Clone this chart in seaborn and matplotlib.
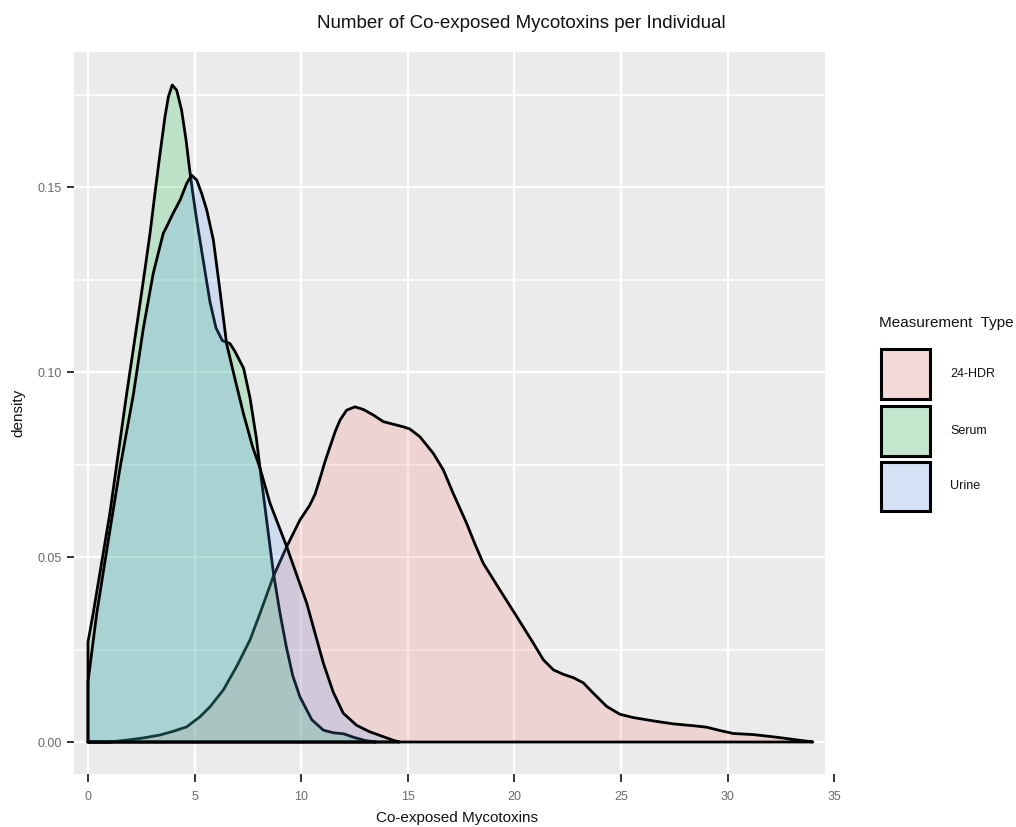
import numpy as np
import pandas as pd
import matplotlib
matplotlib.use("Agg")
import matplotlib.pyplot as plt
import matplotlib.colors as mcolors
from matplotlib.patches import Rectangle
import seaborn as sns

# ---------------- data ----------------
groups = ["24-HDR", "Serum", "Urine"]

hdr_x = [0, 1.0, 1.81, 2.6, 3.38, 4.0, 4.63, 5.25, 5.72, 6.35, 6.97, 7.6, 8.07, 8.69, 9.32,
         9.94, 10.4, 10.65, 10.88, 11.1, 11.35, 11.6, 11.82, 12.13, 12.52, 12.91, 13.38,
         13.85, 14.32, 14.79, 15.1, 15.57, 16.2, 16.67, 17.13, 17.76, 18.15, 18.54, 19.32,
         20.11, 20.89, 21.36, 21.83, 22.29, 22.76, 23.23, 23.7, 24.33, 24.95, 25.58, 26.52,
         27.45, 28.39, 29.02, 29.64, 30.27, 31.21, 32.14, 33.08, 34.0]
hdr_d = [0.0, 0.0, 0.0005, 0.0011, 0.0019, 0.0029, 0.0041, 0.0068, 0.0095, 0.0141, 0.0204,
         0.0276, 0.0348, 0.0447, 0.0528, 0.0600, 0.0640, 0.0670, 0.0712, 0.0755, 0.0798,
         0.0840, 0.0870, 0.0897, 0.0906, 0.0899, 0.0884, 0.0866, 0.0859, 0.0852, 0.0846,
         0.0825, 0.0780, 0.0735, 0.0672, 0.0591, 0.0535, 0.0483, 0.0411, 0.0339, 0.0267,
         0.0222, 0.0195, 0.0183, 0.0174, 0.0160, 0.0132, 0.0096, 0.0075, 0.0066, 0.0057,
         0.0049, 0.0044, 0.0040, 0.0031, 0.0023, 0.0020, 0.0014, 0.0007, 0.0]

serum_x = [0, 0.25, 1.03, 1.81, 2.28, 2.6, 2.91, 3.14, 3.38, 3.61, 3.77, 3.95, 4.16, 4.39,
           4.6, 4.75, 4.9, 5.1, 5.41, 5.72, 6.0, 6.3, 6.66, 6.9, 7.3, 7.6, 7.9, 8.1, 8.4,
           8.7, 9.0, 9.3, 9.6, 9.94, 10.5, 11.04, 11.5, 12.0, 12.5, 13.0, 13.5]
serum_d = [0.027, 0.035, 0.062, 0.094, 0.1122, 0.1249, 0.1375, 0.1483, 0.1591, 0.169,
           0.1744, 0.1776, 0.1762, 0.1708, 0.1627, 0.1555, 0.149, 0.141, 0.130, 0.119,
           0.112, 0.1085, 0.1077, 0.1055, 0.101, 0.093, 0.082, 0.0725, 0.059, 0.0456,
           0.035, 0.0258, 0.018, 0.0122, 0.006, 0.0032, 0.0025, 0.0022, 0.0012, 0.0004, 0.0]

urine_x = [0, 0.41, 1.03, 1.5, 2.13, 2.6, 3.06, 3.53, 3.69, 4.0, 4.32, 4.63, 4.86, 5.1, 5.33,
           5.57, 5.88, 6.19, 6.5, 6.9, 7.29, 7.72, 8.07, 8.54, 9.32, 10.26, 11.04, 11.5,
           11.97, 12.6, 13.2, 14.3, 14.6]
urine_d = [0.0163, 0.0348, 0.0573, 0.074, 0.094, 0.112, 0.1267, 0.1375, 0.1393, 0.143,
           0.1465, 0.151, 0.1532, 0.1519, 0.1483, 0.1438, 0.1357, 0.122, 0.1077, 0.098,
           0.0888, 0.0798, 0.074, 0.0645, 0.0528, 0.0375, 0.0213, 0.0135, 0.0078, 0.0045,
           0.0028, 0.0005, 0.0]

series = {"24-HDR": (hdr_x, hdr_d), "Serum": (serum_x, serum_d), "Urine": (urine_x, urine_d)}
palette = {"24-HDR": "#F8766D", "Serum": "#00BA38", "Urine": "#619CFF"}

x_ticks = [0, 5, 10, 15, 20, 25, 30, 35]
y_ticks = [0.00, 0.05, 0.10, 0.15]
y_minor = [0.025, 0.075, 0.125, 0.175]

title = "Number of Co-exposed Mycotoxins per Individual"
x_label = "Co-exposed Mycotoxins"
y_label = "density"
legend_title = "Measurement  Type"

# ---------------- style ----------------
sns.set_style("white")
plt.rcParams["font.family"] = ["Liberation Sans", "DejaVu Sans"]

W, H = 1016, 827
fig = plt.figure(figsize=(W / 100, H / 100), dpi=100)

x0_px, sx = 88.0, 21.32          # px of x=0, px per unit
pl, pr, pt, pb = 74.3, 825.0, 51.7, 774.0
ax = fig.add_axes([pl / W, 1 - pb / H, (pr - pl) / W, (pb - pt) / H])
ax.set_facecolor("#EBEBEB")
ax.set_xlim((pl - x0_px) / sx, (pr - x0_px) / sx)
ax.set_ylim(-0.00865, 0.1866)
for s in ax.spines.values():
    s.set_visible(False)

for v in x_ticks:
    ax.axvline(v, color="white", lw=1.6, zorder=0.5)
for v in y_ticks:
    ax.axhline(v, color="white", lw=1.6, zorder=0.5)
for v in y_minor:
    ax.axhline(v, color="white", lw=1.1, zorder=0.5)

alpha = 0.2
z = 1
for g in groups:
    xs, ds = series[g]
    ax.fill_between(xs, ds, 0, color=palette[g], alpha=alpha, lw=0, zorder=z)
    ox = [xs[0]] + list(xs) + [xs[-1], xs[0]]
    oy = [0.0] + list(ds) + [0.0, 0.0]
    df = pd.DataFrame({"x": ox, "y": oy})
    sns.lineplot(data=df, x="x", y="y", sort=False, estimator=None, color="black",
                 lw=2.0, ax=ax, zorder=z + 0.5)
    line = ax.lines[-1]
    line.set_solid_joinstyle("round")
    line.set_solid_capstyle("round")
    z += 1

ax.set_xticks([])
ax.set_xlabel("")
ax.set_ylabel("")
ax.set_yticks(y_ticks)
ax.set_yticklabels([f"{v:.2f}" for v in y_ticks])
ax.tick_params(axis="y", length=5, width=1.4, color="#333333", pad=4,
               labelsize=9, labelcolor="#6B6B6B", left=True)

# separate tick axis for x (extends past the panel as in the reference)
right_px = 845.0
ax2 = fig.add_axes([pl / W, 1 - pb / H, (right_px - pl) / W, 0.0001])
ax2.set_xlim((pl - x0_px) / sx, (right_px - x0_px) / sx)
ax2.set_facecolor("none")
for s in ax2.spines.values():
    s.set_visible(False)
ax2.set_yticks([])
ax2.set_xticks(x_ticks)
ax2.set_xticklabels([str(v) for v in x_ticks])
ax2.tick_params(axis="x", length=6, width=1.4, color="#333333", pad=6,
                labelsize=9, labelcolor="#6B6B6B", bottom=True)

fig.text(521.5 / W, 1 - 23 / H, title, ha="center", va="center", fontsize=13.5, color="#111111")
fig.text(457 / W, 1 - 818 / H, x_label, ha="center", va="center", fontsize=11, color="#111111")
fig.text(18 / W, 1 - 413 / H, y_label, ha="center", va="center", rotation=90, fontsize=11,
         color="#111111")

# legend (keys drawn as in ggplot: tinted key box with thick black border)
def blend(c, a, bg="#F2F2F2"):
    c = np.array(mcolors.to_rgb(c))
    b = np.array(mcolors.to_rgb(bg))
    return tuple(a * c + (1 - a) * b)

fig.text(879 / W, 1 - 323 / H, legend_title, ha="left", va="center", fontsize=11,
         color="#111111")
key_top = [349.5, 406.5, 461.5]
key_w, key_h = 49.0, 49.0
for g, top in zip(groups, key_top):
    fig.add_artist(Rectangle((880.5 / W, 1 - (top + key_h) / H), key_w / W, key_h / H,
                             transform=fig.transFigure, facecolor=blend(palette[g], alpha),
                             edgecolor="black", lw=2.2))
    fig.text(950 / W, 1 - (top + key_h / 2) / H, g, ha="left", va="center", fontsize=9,
             color="#111111")

fig.savefig("out.png", dpi=100)
